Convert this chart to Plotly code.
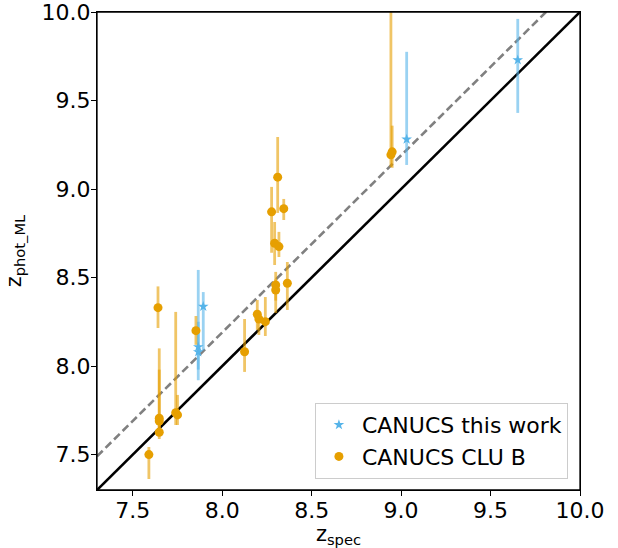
import plotly.graph_objects as go

# CANUCS CLU B (orange circles)
clu_x = [7.59, 7.641, 7.648, 7.648, 7.648, 7.74, 7.75, 7.853, 8.125, 8.196, 8.205, 8.241,
         8.276, 8.293, 8.299, 8.299, 8.31, 8.317, 8.344, 8.364, 8.943, 8.95]
clu_y = [7.50, 8.33, 7.705, 7.69, 7.626, 7.737, 7.724, 8.20, 8.081, 8.293, 8.266, 8.251,
         8.871, 8.694, 8.458, 8.43, 9.067, 8.675, 8.889, 8.468, 9.193, 9.21]
clu_hi = [7.543, 8.45, 8.10, 7.98, 7.70, 8.306, 7.837, 8.283, 8.266, 8.373, 8.30, 8.39,
          9.012, 8.814, 8.532, 8.49, 9.294, 8.758, 8.944, 8.588, 10.3, 9.358]
clu_lo = [7.362, 8.215, 7.64, 7.64, 7.588, 7.667, 7.667, 8.12, 7.967, 8.204, 8.176, 8.17,
          8.64, 8.571, 8.37, 8.30, 8.865, 8.616, 8.825, 8.317, 9.125, 9.12]

# CANUCS this work (blue stars)
tw_x = [7.866, 7.866, 7.894, 9.031, 9.652]
tw_y = [8.108, 8.08, 8.336, 9.281, 9.729]
tw_hi = [8.543, 8.25, 8.418, 9.775, 9.961]
tw_lo = [7.92, 7.98, 8.09, 9.136, 9.43]

axis_range = [7.3, 10.0]
tick_vals = [7.5, 8.0, 8.5, 9.0, 9.5, 10.0]
tick_text = ["7.5", "8.0", "8.5", "9.0", "9.5", "10.0"]
offset = 0.19

ORANGE = "#E69F00"
BLUE = "#56B4E9"
FONT = "DejaVu Sans"

fig = go.Figure()

# one-to-one line
fig.add_trace(go.Scatter(x=axis_range, y=axis_range, mode="lines",
                         line=dict(color="black", width=2.6), showlegend=False, hoverinfo="skip"))
# offset dashed line
fig.add_trace(go.Scatter(x=axis_range, y=[v + offset for v in axis_range], mode="lines",
                         line=dict(color="#808080", width=2.6, dash="8px,4px"),
                         showlegend=False, hoverinfo="skip"))

fig.add_trace(go.Scatter(
    x=tw_x, y=tw_y, mode="markers", name="CANUCS this work",
    marker=dict(symbol="star", size=8, color=BLUE),
    error_y=dict(type="data", symmetric=False,
                 array=[h - v for h, v in zip(tw_hi, tw_y)],
                 arrayminus=[v - l for l, v in zip(tw_lo, tw_y)],
                 color="rgba(86,180,233,0.6)", thickness=2.8, width=0),
))

fig.add_trace(go.Scatter(
    x=clu_x, y=clu_y, mode="markers", name="CANUCS CLU B",
    marker=dict(symbol="circle", size=9, color=ORANGE),
    error_y=dict(type="data", symmetric=False,
                 array=[h - v for h, v in zip(clu_hi, clu_y)],
                 arrayminus=[v - l for l, v in zip(clu_lo, clu_y)],
                 color="rgba(230,159,0,0.6)", thickness=2.8, width=0),
))

axis_common = dict(
    range=axis_range, tickvals=tick_vals, ticktext=tick_text, automargin=False,
    ticklabeloverflow="allow",
    showgrid=False, zeroline=False, showline=True, linecolor="black", linewidth=1.3,
    mirror=True, ticks="outside", ticklen=5, tickwidth=1.2, tickcolor="black",
    tickfont=dict(family=FONT, size=22, color="black"),
)

fig.update_layout(
    width=618, height=548,
    margin=dict(l=97, r=38, t=12, b=58),
    paper_bgcolor="white", plot_bgcolor="white",
    font=dict(family=FONT, color="black"),
    xaxis=dict(**axis_common, ticklabelstandoff=-5,
               title=dict(text="z<sub>spec</sub>", font=dict(family=FONT, size=21), standoff=4)),
    yaxis=dict(**axis_common, ticklabelstandoff=-4,
               title=dict(text="z<sub>phot_ML</sub>", font=dict(family=FONT, size=21), standoff=14)),
    legend=dict(x=0.975, y=0.023, xanchor="right", yanchor="bottom",
                bgcolor="rgba(255,255,255,0.8)", bordercolor="#cccccc", borderwidth=1,
                font=dict(family=FONT, size=22, color="black"),
                itemwidth=36, tracegroupgap=0),
    shapes=[dict(type="rect", xref="paper", yref="paper", x0=0, x1=1, y0=0, y1=1,
                 line=dict(color="black", width=1.3), layer="above")],
    showlegend=True,
)

fig.write_html("out.html")
